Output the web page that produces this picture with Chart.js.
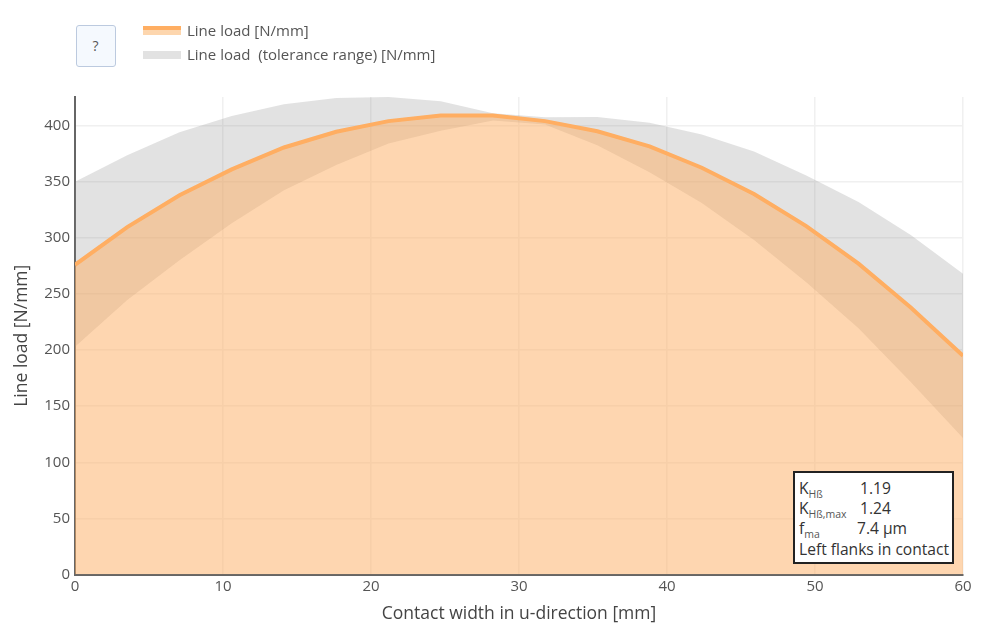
<!DOCTYPE html>
<html><head><meta charset="utf-8">
<script src="https://cdn.jsdelivr.net/npm/chart.js@4"></script>
<style>
html,body{margin:0;padding:0;background:#fff;font-family:"Open Sans",sans-serif;color:#444}
#wrap{position:relative;width:1000px;height:625px;overflow:hidden}
canvas{position:absolute;left:0;top:0}
.help{position:absolute;left:75.5px;top:24.5px;width:38px;height:40px;border:1.5px solid #bccadf;border-radius:3px;background:#f5f9fe;text-align:center;line-height:40px;font-size:14px;color:#555}
.lg{position:absolute;left:187px;font-size:15px;color:#555;white-space:pre;line-height:20px}
.sw{position:absolute;left:143px;width:38px}
.note{position:absolute;left:793px;top:471px;width:157px;height:89px;border:2px solid #222;background:#fff;font-size:15.6px;color:#333;line-height:20.4px;box-sizing:content-box}
.note div{position:absolute;left:4px;white-space:nowrap}
.note sub{font-size:10.5px;line-height:0;vertical-align:-4px;color:#555}
.note span{position:absolute;top:0}
</style></head><body>
<div id="wrap">
<canvas id="c" width="1000" height="625"></canvas>
<div class="help">?</div>
<div class="sw" style="top:26px;height:4px;background:#ffae62"></div>
<div class="sw" style="top:30px;height:5px;background:#fdd6ae"></div>
<div class="lg" style="top:20px">Line load [N/mm]</div>
<div class="sw" style="top:51px;height:8px;background:#e2e2e2"></div>
<div class="lg" style="top:44px">Line load  (tolerance range) [N/mm]</div>
<div class="note">
<div style="top:5px">K<sub>Hß</sub><span style="left:61px">1.19</span></div>
<div style="top:25px">K<sub>Hß,max</sub><span style="left:61px">1.24</span></div>
<div style="top:45px">f<sub>ma</sub><span style="left:58px;white-space:nowrap">7.4 µm</span></div>
<div style="top:66px">Left flanks in contact</div>
</div>
</div>
<script>
const contactWidth = [0,3.53,7.06,10.59,14.12,17.65,21.18,24.71,28.24,31.76,35.29,38.82,42.35,45.88,49.41,52.94,56.47,60];
const lineLoad     = [276,309.6,338,361,380.5,394.5,404,409,409,404,395,381.5,362.5,339,310.5,277,238,195];
const upperLoad    = [350,373.7,394,408.5,419,424.5,425.5,421.8,411,407.5,407.6,402.5,392,377,355.5,332,302.5,268];
const lowerLoad    = [203,244.5,280,313,342.5,365,384,395.5,404.5,401,382.6,358.5,331,298,260.5,219.5,171.6,121.6];
const xMax = 60, yTop = 425.5;
const pts = a => a.map((y,i)=>({x:contactWidth[i],y}));
const font = {family:'"Open Sans",sans-serif',size:15};
new Chart(document.getElementById('c'),{
  type:'line',
  data:{datasets:[
    {label:'Line load [N/mm]',data:pts(lineLoad),borderColor:'#ffae62',borderWidth:4,backgroundColor:'rgba(253,174,97,0.5)',fill:'origin',pointRadius:0,tension:0,order:1},
    {label:'Line load  (tolerance range) [N/mm]',data:pts(upperLoad),borderWidth:0,borderColor:'transparent',backgroundColor:'rgba(128,128,128,0.23)',fill:'+1',pointRadius:0,tension:0,order:2},
    {label:'lower',data:pts(lowerLoad),borderWidth:0,borderColor:'transparent',fill:false,pointRadius:0,tension:0,order:3}
  ]},
  options:{
    responsive:false,animation:false,
    layout:{padding:{top:97,right:37,left:0,bottom:0}},
    plugins:{legend:{display:false},tooltip:{enabled:false}},
    scales:{
      x:{type:'linear',min:0,max:xMax,
        ticks:{stepSize:10,color:'#555',font,padding:3,maxRotation:0},
        grid:{color:'#f0f0f0',lineWidth:1.5,drawTicks:false},
        border:{color:'#666',width:2,z:-0.5},
        title:{display:true,text:'Contact width in u-direction [mm]',color:'#444',font:{family:font.family,size:17.5},padding:{top:0,bottom:0}},
        afterFit(s){s.height=50.5}},
      y:{min:0,max:yTop,
        ticks:{stepSize:50,includeBounds:false,color:'#555',font,padding:5},
        grid:{color:'#f0f0f0',lineWidth:1.5,drawTicks:false},
        border:{color:'#666',width:2,z:-0.5},
        title:{display:true,text:'Line load [N/mm]',color:'#444',font:{family:font.family,size:17.5},padding:{top:11.5,bottom:0}},
        afterFit(s){s.width=75}}
    }
  }
});
</script>
</body></html>
